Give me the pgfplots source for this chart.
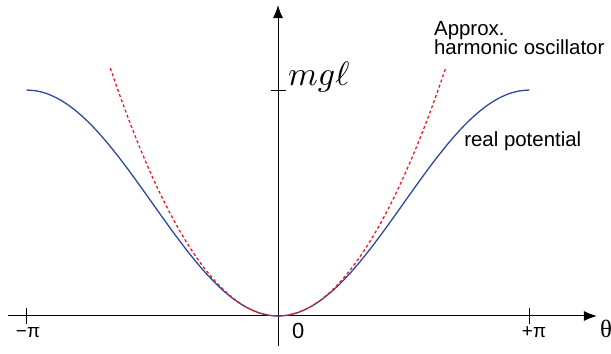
\documentclass[border=0pt]{standalone}
\usepackage{graphicx}
\usepackage{fontspec}
\setmainfont{Liberation Sans}
\newfontfamily\serifthe{Liberation Serif}
\usepackage{pgfplots}
\pgfplotsset{compat=1.18}
\usetikzlibrary{arrows.meta}
\definecolor{potblue}{RGB}{46,73,158}
\definecolor{oscred}{RGB}{237,28,36}

% theta in units of pi, potential in units of the peak
\pgfplotstableread{
x y
-1.00000 1.000000
-0.95833 0.995722
-0.91667 0.982963
-0.87500 0.961940
-0.83333 0.933013
-0.79167 0.896677
-0.75000 0.853553
-0.70833 0.804381
-0.66667 0.750000
-0.62500 0.691342
-0.58333 0.629410
-0.54167 0.565263
-0.50000 0.500000
-0.45833 0.434737
-0.41667 0.370590
-0.37500 0.308658
-0.33333 0.250000
-0.29167 0.195619
-0.25000 0.146447
-0.20833 0.103323
-0.16667 0.066987
-0.12500 0.038060
-0.08333 0.017037
-0.04167 0.004278
0.00000 0.000000
0.04167 0.004278
0.08333 0.017037
0.12500 0.038060
0.16667 0.066987
0.20833 0.103323
0.25000 0.146447
0.29167 0.195619
0.33333 0.250000
0.37500 0.308658
0.41667 0.370590
0.45833 0.434737
0.50000 0.500000
0.54167 0.565263
0.58333 0.629410
0.62500 0.691342
0.66667 0.750000
0.70833 0.804381
0.75000 0.853553
0.79167 0.896677
0.83333 0.933013
0.87500 0.961940
0.91667 0.982963
0.95833 0.995722
1.00000 1.000000
}\realpot

\pgfplotstableread{
x y
-0.66667 1.09663
-0.62500 0.96383
-0.58333 0.83961
-0.54167 0.72395
-0.50000 0.61685
-0.45833 0.51833
-0.41667 0.42837
-0.37500 0.34698
-0.33333 0.27416
-0.29167 0.20990
-0.25000 0.15421
-0.20833 0.10710
-0.16667 0.06854
-0.12500 0.03855
-0.08333 0.01713
-0.04167 0.00428
0.00000 0.00000
0.04167 0.00428
0.08333 0.01713
0.12500 0.03855
0.16667 0.06854
0.20833 0.10710
0.25000 0.15421
0.29167 0.20990
0.33333 0.27416
0.37500 0.34698
0.41667 0.42837
0.45833 0.51833
0.50000 0.61685
0.54167 0.72395
0.58333 0.83961
0.62500 0.96383
0.66667 1.09663
}\harmosc

\begin{document}
\begin{tikzpicture}
\path[use as bounding box] (0,0) rectangle (611bp,354bp);
\begin{axis}[
  at={(278bp,38bp)}, anchor=origin,
  scale only axis,
  width=589bp, height=341bp,
  xmin=-1.074, xmax=1.268,
  ymin=-0.133, ymax=1.376,
  enlargelimits=false,
  axis lines=middle,
  axis line style={line width=1bp, -{Latex[length=13bp,width=10bp]}},
  xtick={-1,1}, xticklabels={},
  ytick={1}, yticklabels={},
  tick align=center,
  major tick length=15bp,
  tick style={line width=0.8bp, black},
  clip=false,
]
\addplot[potblue, line width=1.3bp, smooth] table {\realpot};
\addplot[oscred, line width=1.3bp, dash pattern=on 3bp off 2.5bp, smooth] table {\harmosc};
\node[anchor=base, inner sep=0pt, font=\fontsize{19}{22}\selectfont] at (axis cs:-0.994,-0.097) {−π};
\node[anchor=base, inner sep=0pt, font=\fontsize{19}{22}\selectfont] at (axis cs:1.018,-0.097) {+π};
\node[anchor=north west, inner sep=0pt, font=\fontsize{22}{24}\selectfont] at (axis cs:0.0557,-0.031) {0};
\node[anchor=base west, inner sep=0pt] at (axis cs:0.0398,1.022) {\scalebox{3.4}{$mg\ell$}};
\node[anchor=base west, inner sep=0pt, font=\fontsize{20.5}{22}\selectfont] at (axis cs:0.620,1.243) {Approx.};
\node[anchor=base west, inner sep=0pt, font=\fontsize{20.5}{22}\selectfont] at (axis cs:0.620,1.155) {harmonic oscillator};
\node[anchor=base west, inner sep=0pt, font=\fontsize{20.5}{22}\selectfont] at (axis cs:0.740,0.752) {real potential};
\node[anchor=base west, inner sep=0pt, font=\serifthe\fontsize{25}{28}\selectfont] at (axis cs:1.280,-0.097) {θ};
\end{axis}
\end{tikzpicture}
\end{document}
